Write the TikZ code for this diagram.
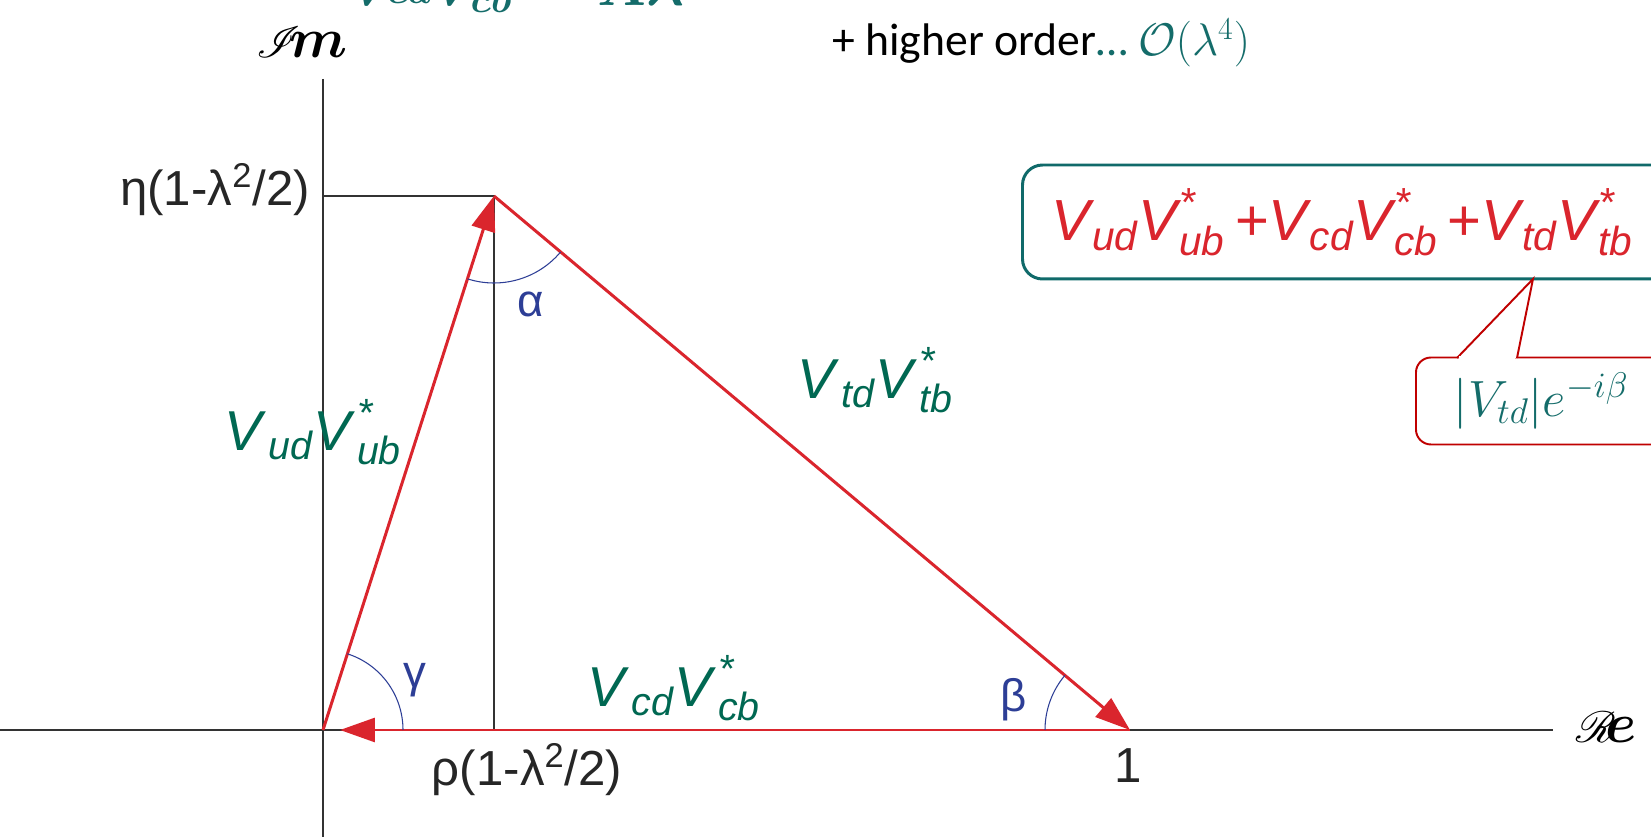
\RequirePackage{fix-cm}
\documentclass[tikz,border=0pt]{standalone}
\usepackage{amsmath,amssymb}
\usepackage{mathrsfs}
\usepackage{fontspec}
\setmainfont{Liberation Sans}
\newfontfamily\calib{Carlito}
\usepackage{xcolor}
\usepackage{tikz}
\usetikzlibrary{arrows.meta, positioning}

\definecolor{vecred}{RGB}{218,37,45}
\definecolor{labgreen}{RGB}{0,104,82}
\definecolor{angblue}{RGB}{45,62,150}
\definecolor{boxteal}{RGB}{16,106,106}
\definecolor{mteal}{RGB}{20,108,106}
\definecolor{calred}{RGB}{192,0,0}

\newcommand{\vpair}[3][3mu]{$\textit{V}_{\mkern#1\textit{#2}}\textit{V}^{\mkern#1\textit{*}}_{\mkern#1\textit{#3}}$}
\newcommand{\hisub}[1]{\smash{\raisebox{6pt}{$\scriptstyle #1$}}}

\begin{document}
\begin{tikzpicture}[
    x=0.02cm, y=-0.02cm,
    axis/.style={draw=black!80, line width=0.9pt},
    vec/.style={
      draw=vecred, line width=1.7pt,
      -{Triangle[length=0.7cm, width=0.48cm]}
    },
    ang/.style={draw=angblue, line width=0.6pt},
    glbl/.style={text=labgreen, font=\fontsize{32}{36}\selectfont, inner sep=0pt},
    klbl/.style={text=black!85, font=\fontsize{28}{32}\selectfont, inner sep=0pt},
    albl/.style={text=angblue, font=\fontsize{26}{30}\selectfont, inner sep=0pt},
    axlbl/.style={font=\boldmath\fontsize{32}{36}\selectfont, inner sep=0pt},
    sumbox/.style={
      rectangle, rounded corners=0.4cm,
      draw=boxteal, line width=1.7pt, fill=white,
      text=vecred, font=\fontsize{33}{38}\selectfont,
      inner xsep=0.58cm, minimum height=2.28cm, anchor=west,
      text width=12.8cm, align=left
    },
    callbox/.style={
      rectangle, rounded corners=0.3cm,
      draw=calred, line width=1.1pt, fill=white,
      text=mteal, font=\fontsize{29}{32}\selectfont,
      inner xsep=0.76cm, minimum height=1.74cm, anchor=west,
      text width=4.4cm, align=left
    }
  ]

    \clip (0,0) rectangle (1651,837);
    \fill[white] (0,0) rectangle (1651,837);

    \coordinate (O) at (323,730);
    \coordinate (A) at (494,196);
    \coordinate (B) at (1130,730);
    \coordinate (xl) at (0,730);
    \coordinate (xr) at (1553,730);
    \coordinate (yt) at (323,79);
    \coordinate (yb) at (323,840);
    \coordinate (etaA) at (O |- A);
    \coordinate (rhoA) at (A |- O);

    % axes and projections
    \draw[axis] (xl) -- (xr);
    \draw[axis] (yt) -- (yb);
    \draw[axis] (etaA) -- (A) -- (rhoA);

    % unitarity triangle
    \draw[vec] (O) -- (A);
    \draw[vec] (A) -- (B);
    \draw[vec, shorten >=0.34cm] (B) -- (O);

    % angles
    \draw[ang] (O) ++(0:80) arc[start angle=0, end angle=-72.3, radius=80];
    \draw[ang] (A) ++(107.7:87) arc[start angle=107.7, end angle=40.1, radius=87];
    \draw[ang] (B) ++(180:85) arc[start angle=180, end angle=220.1, radius=85];

    \node[albl] (alpha) at (531,304) {α};
    \node[albl] (beta)  at (1014,700) {β};
    \node[albl] (gamma) at (415,680) {γ};

    \node[klbl] (eta) at (215,190) {η(1-λ\textsuperscript{2}/2)};
    \node[klbl] (rho) at (527,770) {ρ(1-λ\textsuperscript{2}/2)};
    \node[klbl] (one) at (1128,766) {1};

    \node[glbl] (ud) at (313,432) {\vpair{ud}{ub}};
    \node[glbl] (td) at (875,380) {\vpair{td}{tb}};
    \node[glbl] (cd) at (674,688) {\vpair{cd}{cb}};

    \node[axlbl] (im) at (302,42) {$\mathscr{I}\!m$};
    \node[axlbl] (re) at (1606,727) {$\mathscr{R}\!e$};

    % text cut by the top edge
    \node[anchor=base west, inner sep=0pt, text=mteal,
          font=\boldmath\fontsize{32}{36}\selectfont] (cdcb) at (349,6)
      {$V_{\hisub{cd}}V_{\hisub{cb}}^{*} = A\lambda^{3}$};

    \node[anchor=west, inner sep=0pt, font=\calib\fontsize{26}{30}\selectfont] (hot) at (832,43)
      {+ higher order{\color{mteal}\dots\ $\mathcal{O}(\lambda^{4})$}};

    \node[sumbox] (sum) at (1021,222)
      {\vpair[1mu]{ud}{ub}\,+\vpair[1mu]{cd}{cb}\,+\vpair[1mu]{td}{tb}};

    \node[callbox] (vtd) at (1415,401) {$|V_{td}|e^{-i\beta}$};
    \coordinate (tip) at (1533,279);
    \coordinate (pl) at (1457,358);
    \coordinate (pr) at (1517,358);
    \filldraw[draw=calred, fill=white, line width=1.1pt] (pl) -- (tip) -- (pr);
    \draw[white, line width=2pt, shorten <=1pt, shorten >=1pt] (pl) -- (pr);
  \end{tikzpicture}
\end{document}
